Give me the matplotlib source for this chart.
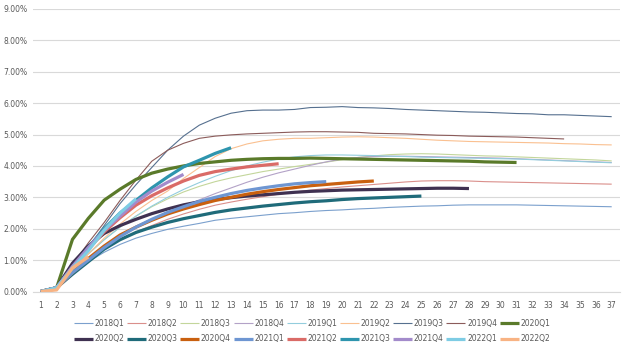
import matplotlib.pyplot as plt
from matplotlib.ticker import PercentFormatter

# cumulative rate (%) by period, one list per vintage
periods = list(range(1, 38))

v2018q1 = [0, 0.12, 0.6, 0.95, 1.25, 1.5, 1.7, 1.85, 1.98, 2.08, 2.17, 2.27, 2.33, 2.38, 2.43, 2.48, 2.51, 2.55, 2.58,
           2.6, 2.63, 2.65, 2.68, 2.7, 2.72, 2.73, 2.75, 2.76, 2.76, 2.76, 2.76, 2.75, 2.74, 2.73, 2.72, 2.71, 2.7]
v2018q2 = [0, 0.12, 0.6, 1.0, 1.35, 1.65, 1.9, 2.1, 2.3, 2.47, 2.62, 2.75, 2.85, 2.94, 3.02, 3.1, 3.17, 3.23, 3.28,
           3.33, 3.37, 3.41, 3.45, 3.49, 3.52, 3.53, 3.53, 3.52, 3.5, 3.49, 3.48, 3.47, 3.46, 3.45, 3.44, 3.43, 3.42]
v2018q3 = [0, 0.12, 0.7, 1.2, 1.65, 2.05, 2.4, 2.7, 2.95, 3.17, 3.35, 3.5, 3.62, 3.72, 3.82, 3.9, 3.98, 4.05, 4.12,
           4.2, 4.27, 4.32, 4.36, 4.38, 4.39, 4.38, 4.36, 4.34, 4.32, 4.31, 4.29, 4.27, 4.25, 4.23, 4.21, 4.19, 4.16]
v2018q4 = [0, 0.12, 0.6, 1.0, 1.4, 1.75, 2.05, 2.3, 2.52, 2.72, 2.92, 3.12, 3.3, 3.48, 3.64, 3.78, 3.9, 4.02, 4.13,
           4.22, 4.27, 4.3, 4.31, 4.31, 4.3, 4.29, 4.28, 4.27, 4.26, 4.25, 4.23, 4.21, 4.19, 4.17, 4.15, 4.13, 4.11]
v2019q1 = [0, 0.12, 0.7, 1.2, 1.65, 2.05, 2.4, 2.72, 3.0, 3.25, 3.47, 3.67, 3.85, 4.0, 4.12, 4.22, 4.29, 4.33, 4.35,
           4.35, 4.34, 4.33, 4.31, 4.3, 4.28, 4.27, 4.26, 4.25, 4.24, 4.23, 4.22, 4.2, 4.18, 4.16, 4.14, 4.12, 4.1]
v2019q2 = [0, 0.12, 0.7, 1.2, 1.7, 2.15, 2.55, 2.9, 3.2, 3.6, 3.95, 4.3, 4.55, 4.7, 4.8, 4.85, 4.88, 4.88, 4.9,
           4.92, 4.93, 4.92, 4.9, 4.88, 4.85, 4.82, 4.8, 4.78, 4.77, 4.76, 4.75, 4.74, 4.73, 4.71, 4.7, 4.68, 4.67]
v2019q3 = [0, 0.12, 0.8, 1.4, 2.1, 2.8, 3.4, 3.95, 4.5, 4.95, 5.3, 5.52, 5.68, 5.76, 5.78, 5.78, 5.8, 5.86, 5.87,
           5.89, 5.86, 5.85, 5.83, 5.8, 5.78, 5.76, 5.74, 5.72, 5.71, 5.69, 5.67, 5.66, 5.63, 5.63, 5.61, 5.59, 5.57]
v2019q4 = [0, 0.12, 0.85, 1.55, 2.2, 2.9, 3.55, 4.15, 4.5, 4.72, 4.88, 4.95, 4.99, 5.02, 5.04, 5.06, 5.08, 5.09,
           5.09, 5.08, 5.07, 5.04, 5.03, 5.02, 5.0, 4.98, 4.97, 4.95, 4.94, 4.93, 4.92, 4.9, 4.88, 4.86]
v2020q1 = [0, 0.12, 1.66, 2.33, 2.91, 3.26, 3.57, 3.77, 3.9, 4.0, 4.08, 4.13, 4.18, 4.21, 4.23, 4.24, 4.24, 4.25,
           4.24, 4.23, 4.22, 4.21, 4.2, 4.19, 4.18, 4.17, 4.16, 4.15, 4.13, 4.12, 4.11]
v2020q2 = [0, 0.12, 0.9, 1.45, 1.85, 2.1, 2.3, 2.48, 2.63, 2.76, 2.86, 2.93, 2.99, 3.04, 3.08, 3.12, 3.16, 3.19,
           3.21, 3.23, 3.24, 3.25, 3.26, 3.27, 3.28, 3.29, 3.29, 3.28]
v2020q3 = [0, 0.12, 0.55, 0.95, 1.35, 1.65, 1.88, 2.05, 2.2, 2.32, 2.42, 2.52, 2.6, 2.66, 2.72, 2.77, 2.82, 2.86,
           2.89, 2.93, 2.96, 2.98, 3.0, 3.02, 3.04]
v2020q4 = [0, 0.12, 0.6, 1.05, 1.45, 1.8, 2.05, 2.27, 2.47, 2.63, 2.77, 2.9, 3.0, 3.1, 3.18, 3.25, 3.31, 3.37,
           3.41, 3.45, 3.49, 3.52]
v2021q1 = [0, 0.12, 0.6, 1.0, 1.4, 1.75, 2.05, 2.3, 2.52, 2.7, 2.87, 3.0, 3.12, 3.22, 3.3, 3.37, 3.43, 3.47, 3.5]
v2021q2 = [0, 0.12, 0.75, 1.35, 1.9, 2.35, 2.75, 3.05, 3.3, 3.52, 3.7, 3.82, 3.9, 3.97, 4.02, 4.07]
v2021q3 = [0, 0.12, 0.75, 1.4, 2.0, 2.5, 2.9, 3.3, 3.65, 3.97, 4.18, 4.4, 4.58]
v2021q4 = [0, 0.12, 0.8, 1.4, 1.95, 2.4, 2.85, 3.2, 3.48, 3.73]
v2022q1 = [0, 0.12, 0.75, 1.3, 1.95, 2.5, 2.95]
v2022q2 = [0, 0.05, 0.75, 1.1]

labels = ["2018Q1", "2018Q2", "2018Q3", "2018Q4", "2019Q1", "2019Q2", "2019Q3", "2019Q4", "2020Q1",
          "2020Q2", "2020Q3", "2020Q4", "2021Q1", "2021Q2", "2021Q3", "2021Q4", "2022Q1", "2022Q2"]
series = [v2018q1, v2018q2, v2018q3, v2018q4, v2019q1, v2019q2, v2019q3, v2019q4, v2020q1,
          v2020q2, v2020q3, v2020q4, v2021q1, v2021q2, v2021q3, v2021q4, v2022q1, v2022q2]
colors = ["#7BA0CD", "#DA8F8B", "#C3D69B", "#B3A2C7", "#93CDDD", "#FAC090", "#56708F", "#8B5B5A", "#5A7A2A",
          "#3F3151", "#1F6B7A", "#C9600F", "#6E96D2", "#DA6B67", "#2E95AE", "#A38BCB", "#7ECCE4", "#F8B383"]


def plot():
    fig = plt.figure(figsize=(6.24, 3.46), dpi=100)
    ax = fig.add_axes([0.0526, 0.1575, 0.9404, 0.8165])

    handles = []
    for i, (name, vals) in enumerate(zip(labels, series)):
        lw = 0.8 if i < 8 else 2.3
        h, = ax.plot(periods[:len(vals)], vals, color=colors[i], lw=lw, label=name,
                     solid_capstyle="butt", solid_joinstyle="round")
        handles.append(h)

    ax.set_xlim(0.5, 37.5)
    ax.set_ylim(0, 9)
    ax.set_xticks(periods)
    ax.set_yticks(range(10))
    ax.yaxis.set_major_formatter(PercentFormatter(decimals=2))
    ax.tick_params(length=0, labelsize=5.5, colors="#595959")
    ax.tick_params(axis="x", pad=7)
    ax.tick_params(axis="y", pad=4)
    ax.grid(axis="y", color="#D9D9D9", lw=0.8)
    ax.set_axisbelow(True)
    for side in ["top", "right", "left"]:
        ax.spines[side].set_visible(False)
    ax.spines["bottom"].set_color("#D9D9D9")
    ax.spines["bottom"].set_linewidth(0.8)

    # legend fills column by column, so interleave to get two rows of nine
    order = []
    for j in range(9):
        order += [j, j + 9]
    fig.legend([handles[k] for k in order], [labels[k] for k in order], ncol=9,
               loc="lower center", bbox_to_anchor=(0.5, -0.012), frameon=False,
               fontsize=5.5, labelcolor="#595959", handlelength=2.5, handletextpad=0.2,
               columnspacing=0.35, labelspacing=0.85)

    fig.savefig("out.png", dpi=100)


if __name__ == '__main__':
    plot()
